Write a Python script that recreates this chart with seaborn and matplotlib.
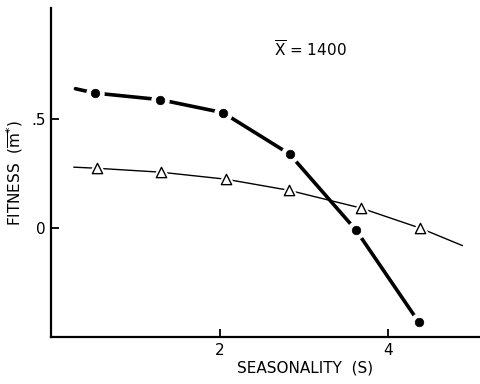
import pandas as pd
import seaborn as sns
import matplotlib.pyplot as plt

# marker points
seasonality = [0.52, 1.29, 2.04, 2.83, 3.62, 4.36]
fitness_dots = [0.62, 0.59, 0.53, 0.34, -0.01, -0.43]
seasonality_tri = [0.54, 1.30, 2.07, 2.82, 3.68, 4.38]
fitness_tri = [0.275, 0.257, 0.225, 0.174, 0.092, 0.0]

# the drawn curves run a bit past the markers
curve_dots_x = [0.29] + seasonality
curve_dots_y = [0.64] + fitness_dots
curve_tri_x = [0.27] + seasonality_tri + [4.88]
curve_tri_y = [0.28] + fitness_tri + [-0.08]

sns.set_style('ticks')
plt.rcParams['font.family'] = ['DejaVu Sans']
plt.rcParams['text.color'] = 'black'
plt.rcParams['axes.labelcolor'] = 'black'
plt.rcParams['xtick.color'] = 'black'
plt.rcParams['ytick.color'] = 'black'
plt.rcParams['axes.edgecolor'] = 'black'

fig = plt.figure(figsize=(4.81, 3.84), dpi=100)
ax = fig.add_axes([0.106, 0.122, 0.894, 0.857])

df_dots = pd.DataFrame({'x': curve_dots_x, 'y': curve_dots_y})
df_tri = pd.DataFrame({'x': curve_tri_x, 'y': curve_tri_y})

sns.lineplot(data=df_dots, x='x', y='y', color='black', lw=2.6, sort=False, ax=ax)
sns.lineplot(data=df_tri, x='x', y='y', color='black', lw=1.0, sort=False, ax=ax)

# white halos make the gaps around the markers
ax.scatter(seasonality, fitness_dots, s=150, color='white', zorder=3)
ax.scatter(seasonality_tri, fitness_tri, s=200, marker='^', color='white', zorder=3)
sns.scatterplot(x=seasonality, y=fitness_dots, s=38, color='black', edgecolor='black', ax=ax, zorder=4)
sns.scatterplot(x=seasonality_tri, y=fitness_tri, s=55, marker='^', facecolor='white',
                edgecolor='black', linewidth=1.0, ax=ax, zorder=4)

ax.set_xlim(0, 5.1)
ax.set_ylim(-0.5, 1.01)
ax.set_xticks([2, 4])
ax.set_xticklabels(['2', '4'])
ax.set_yticks([0, 0.5])
ax.set_yticklabels(['0', '.5'])
ax.tick_params(direction='in', length=6, width=1.3, labelsize=11, pad=4)

sns.despine(ax=ax)
for s in ['left', 'bottom']:
    ax.spines[s].set_linewidth(1.6)

ax.set_xlabel('SEASONALITY  (S)', fontsize=11, labelpad=2, x=0.59)
ax.set_ylabel(r'FITNESS  ($\overline{\mathrm{m}}^{*}$)', fontsize=11, labelpad=4)
ax.text(2.65, 0.82, r'$\overline{\mathrm{X}}$ = 1400', fontsize=11, va='center')

fig.savefig('out.png', dpi=100)
